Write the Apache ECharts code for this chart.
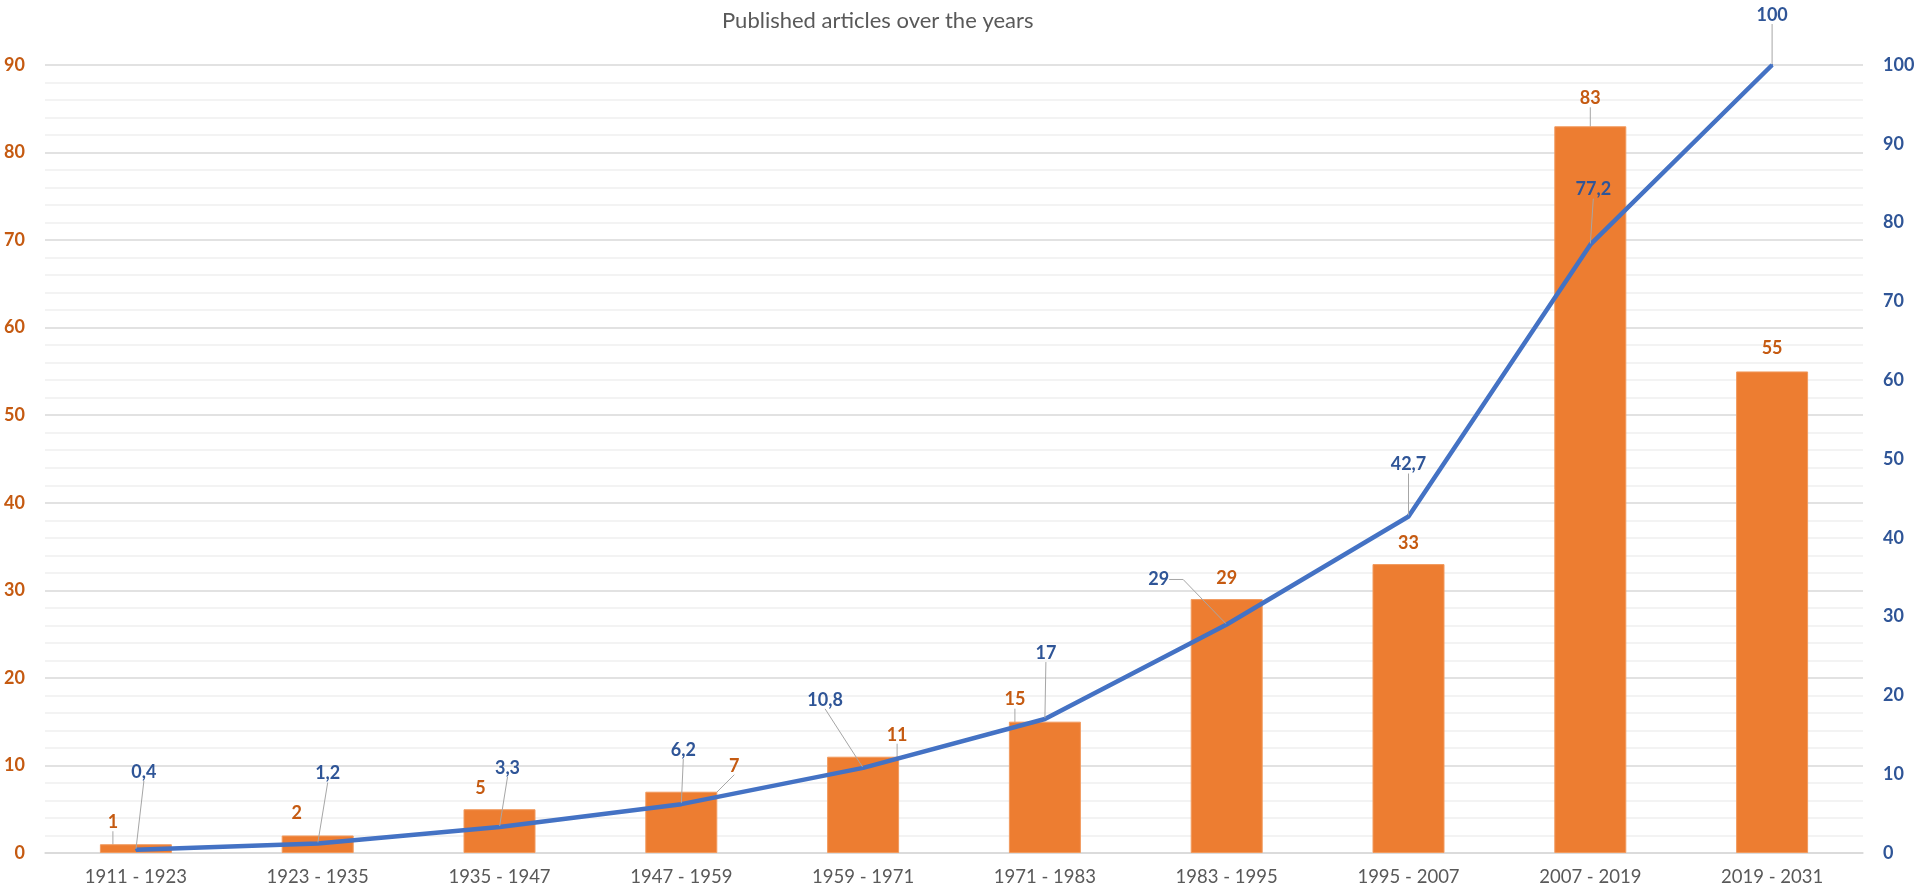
<!DOCTYPE html>
<html>
<head>
<meta charset="utf-8">
<script src="https://cdn.jsdelivr.net/npm/echarts@6/dist/echarts.min.js"></script>
<style>
  html, body { margin: 0; padding: 0; background: #ffffff; }
  #chart { width: 1925px; height: 892px; }
</style>
</head>
<body>
<div id="chart"></div>
<script>
// ---- data ----
const categories = ['1911 - 1923', '1923 - 1935', '1935 - 1947', '1947 - 1959', '1959 - 1971',
                    '1971 - 1983', '1983 - 1995', '1995 - 2007', '2007 - 2019', '2019 - 2031'];
const articles = [1, 2, 5, 7, 11, 15, 29, 33, 83, 55];
const cumulativePct = [0.4, 1.2, 3.3, 6.2, 10.8, 17, 29, 42.7, 77.2, 100];
const titleText = 'Published articles over the years';

// ---- label placement (style only) ----
const barLabelOffsets = [[-23, -8], [-21, -8], [-19, -7], [53, -12], [34, -8], [-30, -8], [0, -7], [0, -7], [0, -14], [0, -9]];
const barLeader = [true, false, false, true, true, true, false, false, true, false];
const lineLabelOffsets = [[8, -78], [10, -70], [8, -59], [2, -54], [-38, -68], [1, -66], [-68, -45], [0, -52], [3, -55], [0, -50]];
const lineLeaderLen2 = [0, 0, 0, 0, 0, 0, 14, 0, 0, 0];

const FONT = 'Lato, "Open Sans", sans-serif';
const ORANGE_TXT = '#C55A11';
const BLUE_TXT = '#2F5597';
const LEADER = { color: '#A6A6A6', width: 1 };

const chart = echarts.init(document.getElementById('chart'), null, { renderer: 'canvas' });

const barData = articles.map((v, i) => ({
  value: v,
  labelLine: { show: barLeader[i], lineStyle: LEADER }
}));
const lineData = cumulativePct.map((v, i) => ({
  value: v,
  labelLine: { show: true, length2: lineLeaderLen2[i], lineStyle: LEADER }
}));

chart.setOption({
  animation: false,
  backgroundColor: '#ffffff',
  title: {
    text: titleText,
    left: 717,
    top: 5,
    textStyle: { fontFamily: FONT, fontSize: 22, fontWeight: 'normal', color: '#595959' }
  },
  grid: { left: 45, right: 62, top: 65, bottom: 39, containLabel: false },
  xAxis: {
    type: 'category',
    data: categories,
    axisTick: { show: false },
    axisLine: { lineStyle: { color: '#D9D9D9', width: 1.5 } },
    axisLabel: { fontFamily: FONT, fontSize: 18.5, color: '#595959', margin: 15, interval: 0 }
  },
  yAxis: [
    {
      type: 'value', min: 0, max: 90, interval: 10, position: 'left',
      axisLine: { show: false }, axisTick: { show: false },
      axisLabel: { fontFamily: FONT, fontSize: 18, fontWeight: 'bold', color: ORANGE_TXT, margin: 20 },
      splitLine: { show: true, lineStyle: { color: '#D9D9D9', width: 1.5 } },
      minorTick: { show: false, splitNumber: 5 },
      minorSplitLine: { show: true, lineStyle: { color: '#EFEFEF', width: 1.5 } }
    },
    {
      type: 'value', min: 0, max: 100, interval: 10, position: 'right',
      axisLine: { show: false }, axisTick: { show: false },
      axisLabel: { fontFamily: FONT, fontSize: 18, fontWeight: 'bold', color: BLUE_TXT, margin: 20 },
      splitLine: { show: false }
    }
  ],
  series: [
    {
      type: 'bar',
      yAxisIndex: 0,
      data: barData,
      barWidth: 72,
      itemStyle: { color: '#ED7D31', borderColor: '#F19A5E', borderWidth: 1 },
      label: {
        show: true, position: 'top',
        fontFamily: FONT, fontSize: 18, fontWeight: 'bold', color: ORANGE_TXT
      },
      labelLayout: (p) => ({ dx: barLabelOffsets[p.dataIndex][0], dy: barLabelOffsets[p.dataIndex][1] }),
      z: 2
    },
    {
      type: 'line',
      yAxisIndex: 1,
      data: lineData,
      symbol: 'circle',
      symbolSize: 2,
      showSymbol: true,
      lineStyle: { color: '#4472C4', width: 4.5 },
      itemStyle: { color: '#4472C4' },
      label: {
        show: true, position: 'inside',
        fontFamily: FONT, fontSize: 18, fontWeight: 'bold', color: BLUE_TXT,
        formatter: (p) => String(p.value).replace('.', ',')
      },
      labelLayout: (p) => ({ dx: lineLabelOffsets[p.dataIndex][0], dy: lineLabelOffsets[p.dataIndex][1] }),
      z: 5
    }
  ]
});
</script>
</body>
</html>
